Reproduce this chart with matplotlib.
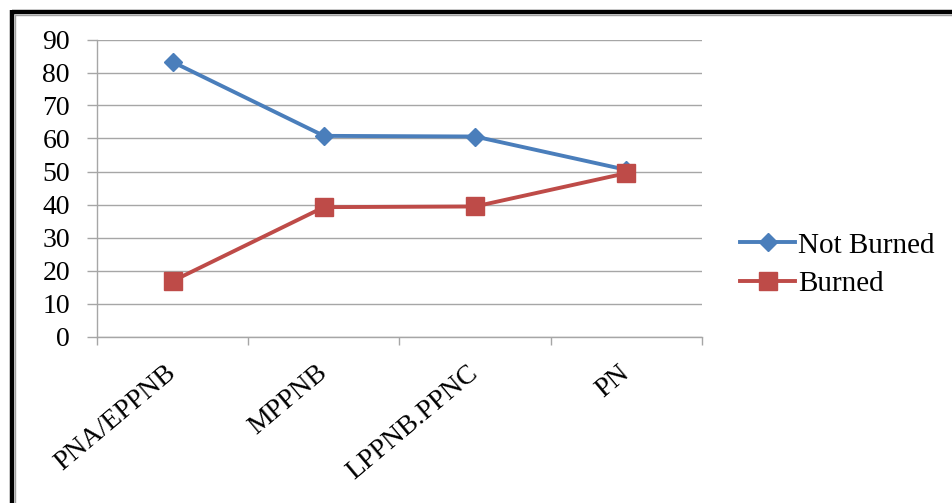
import matplotlib
matplotlib.use("Agg")
import matplotlib.pyplot as plt
from matplotlib.lines import Line2D

categories = ["PNA/EPPNB", "MPPNB", "LPPNB.PPNC", "PN"]
not_burned = [83.2, 60.8, 60.6, 50.5]
burned = [16.8, 39.2, 39.4, 49.5]
y_ticks = [0, 10, 20, 30, 40, 50, 60, 70, 80, 90]

plt.rcParams["font.family"] = ["Liberation Serif", "DejaVu Serif"]

W, H = 952, 503
FS = 20
fig = plt.figure(figsize=(W / 100, H / 100), dpi=100)
ax = fig.add_axes([97 / W, 1 - 336.5 / H, (702 - 97) / W, (336.5 - 39.5) / H])

x = list(range(len(categories)))
blue = "#4A7EBB"
red = "#BE4B48"
ax.plot(x, not_burned, color=blue, lw=2.8, marker="D", ms=9.5,
        mec=blue, mfc=blue, label="Not Burned", zorder=3)
ax.plot(x, burned, color=red, lw=2.8, marker="s", ms=13,
        mec=red, mfc=red, label="Burned", zorder=3)

ax.set_xlim(-0.5, len(categories) - 0.5)
ax.set_ylim(0, 90)
ax.set_yticks(y_ticks)
ax.grid(axis="y", color="#A6A6A6", lw=1.0)
ax.set_axisbelow(True)

for side in ("top", "right"):
    ax.spines[side].set_visible(False)
for side in ("left", "bottom"):
    ax.spines[side].set_color("#A6A6A6")
    ax.spines[side].set_linewidth(1.0)

ax.tick_params(axis="y", direction="out", length=7.5, width=1.0,
               color="#A6A6A6", pad=12, labelsize=FS)

# category labels at the centres, tick marks at the boundaries
ax.set_xticks(x)
ax.set_xticks([i - 0.5 for i in range(len(categories) + 1)], minor=True)
ax.tick_params(axis="x", which="major", length=0, pad=24, labelsize=FS)
ax.tick_params(axis="x", which="minor", direction="out", length=6,
               width=1.0, color="#A6A6A6")
ax.set_xticklabels(categories, rotation=40, ha="right", va="center",
                   rotation_mode="anchor")

leg = ax.legend(loc="center left", bbox_to_anchor=(740 / W, 1 - 264.5 / H),
                bbox_transform=fig.transFigure, frameon=False, fontsize=FS + 1,
                handlelength=1.9, handletextpad=0.08, labelspacing=0.4,
                borderpad=0, borderaxespad=0)

# outer frame: thick black rule on the top and left edges with a grey shadow
fig.add_artist(Line2D([12 / W, 1], [1 - 12 / H, 1 - 12 / H],
                      transform=fig.transFigure, color="black", lw=3.2,
                      solid_capstyle="butt"))
fig.add_artist(Line2D([12 / W, 12 / W], [0, 1 - 10 / H],
                      transform=fig.transFigure, color="black", lw=3.2,
                      solid_capstyle="butt"))
fig.add_artist(Line2D([14.5 / W, 1], [1 - 14.8 / H, 1 - 14.8 / H],
                      transform=fig.transFigure, color="#A0A0A0", lw=1.0))
fig.add_artist(Line2D([14.8 / W, 14.8 / W], [0, 1 - 14.5 / H],
                      transform=fig.transFigure, color="#A0A0A0", lw=1.0))

fig.savefig("out.png", dpi=100)
